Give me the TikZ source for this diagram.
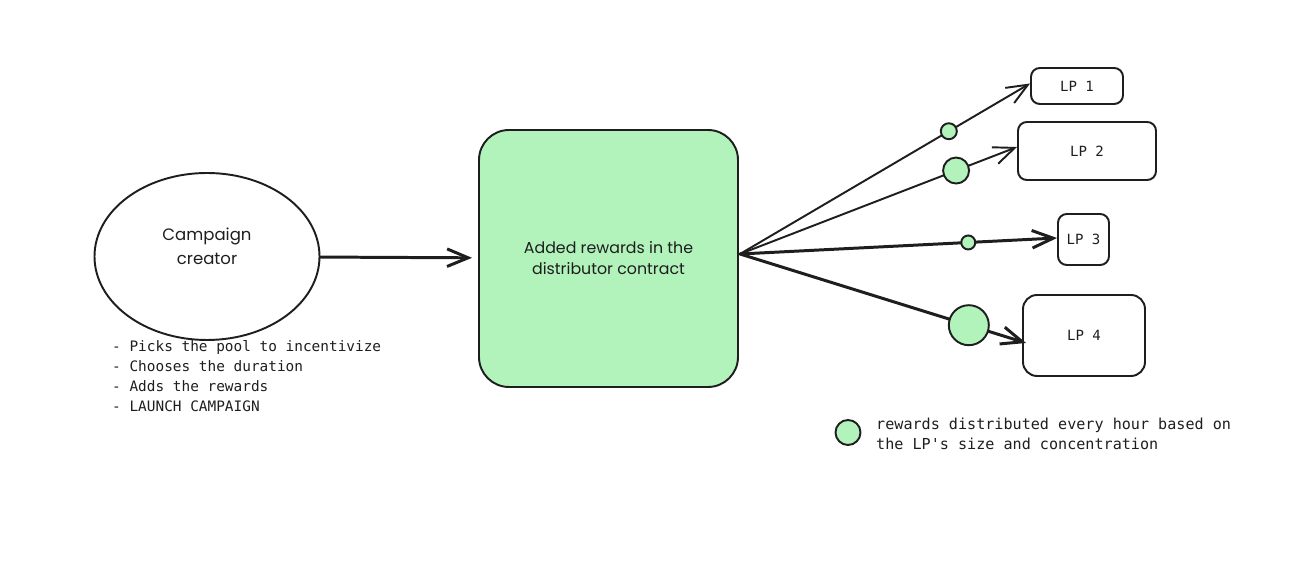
\documentclass[tikz,border=0pt]{standalone}
\usepackage{fontspec}
\usepackage{xcolor}
\usepackage{tikz}
\usetikzlibrary{arrows.meta,shapes.geometric}
\setmainfont{Poppins}
\setmonofont{DejaVu Sans Mono}
\definecolor{ink}{HTML}{1E1E1E}
\definecolor{mint}{HTML}{B2F2BB}
\tikzset{
  link/.style={draw=ink, line width=1.1pt, line cap=round, -{Straight Barb[length=12pt,width=10pt]}},
  heavy/.style={link, line width=1.7pt},
  lpbox/.style={draw=ink, line width=1.1pt, rounded corners=5pt, inner sep=0pt,
    font=\ttfamily\fontsize{8}{10}\selectfont, text=ink},
  reward/.style={circle, draw=ink, fill=mint, line width=1.1pt, inner sep=0pt},
  mono/.style={font=\ttfamily\fontsize{8.2}{11.3}\selectfont, align=left, text=ink},
  hand/.style={align=center, text=ink}
}

\begin{document}
\begin{tikzpicture}
  \useasboundingbox (0,0) rectangle (26.08,11.32);

  % creator side
  \node[ellipse, draw=ink, line width=1.1pt, minimum width=4.5cm, minimum height=3.34cm] (creator) at (4.14,6.19) {};
  \node[hand, font=\fontsize{9.4}{13.5}\selectfont] (creatorlbl) at (4.14,6.40) {Campaign\\creator};
  \node[mono, anchor=west] (steps) at (2.12,3.80) {- Picks the pool to incentivize\\- Chooses the duration\\- Adds the rewards\\- LAUNCH CAMPAIGN};

  % distributor
  \node[hand, draw=ink, fill=mint, line width=1.1pt, rounded corners=0.6cm,
    minimum width=5.18cm, minimum height=5.14cm, font=\fontsize{9}{12}\selectfont] (dist) at (12.17,6.15)
    {Added rewards in the\\distributor contract};
  \draw[heavy, shorten >=0.12cm] (creator) -- (dist);
  \coordinate (fan) at (14.80,6.24);

  % LPs
  \node[lpbox, minimum width=1.84cm, minimum height=0.72cm] (lp1) at (21.54,9.60) {LP 1};
  \node[lpbox, minimum width=2.76cm, minimum height=1.16cm] (lp2) at (21.74,8.30) {LP 2};
  \node[lpbox, minimum width=1.02cm, minimum height=1.02cm] (lp3) at (21.67,6.53) {LP 3};
  \node[lpbox, minimum width=2.44cm, minimum height=1.62cm, rounded corners=8pt] (lp4) at (21.68,4.61) {LP 4};

  \draw[link] (fan) -- node[reward, pos=0.72, minimum size=0.32cm] (r1) {} ([yshift=0.05cm]lp1.west);
  \draw[link] (fan) -- node[reward, pos=0.78, minimum size=0.52cm] (r2) {} ([yshift=0.08cm]lp2.west);
  \draw[heavy] (fan) -- node[reward, pos=0.72, minimum size=0.28cm] (r3) {} ([yshift=0.03cm]lp3.west);
  \draw[heavy] (fan) -- node[reward, pos=0.80, minimum size=0.80cm] (r4) {} ([xshift=0.08cm,yshift=-0.15cm]lp4.west);

  % legend
  \node[reward, minimum size=0.5cm] (key) at (16.96,2.67) {};
  \node[mono, anchor=west, font=\ttfamily\fontsize{8.6}{11.3}\selectfont] (keytext) at (17.40,2.64)
    {rewards distributed every hour based on\\the LP's size and concentration};
\end{tikzpicture}
\end{document}
